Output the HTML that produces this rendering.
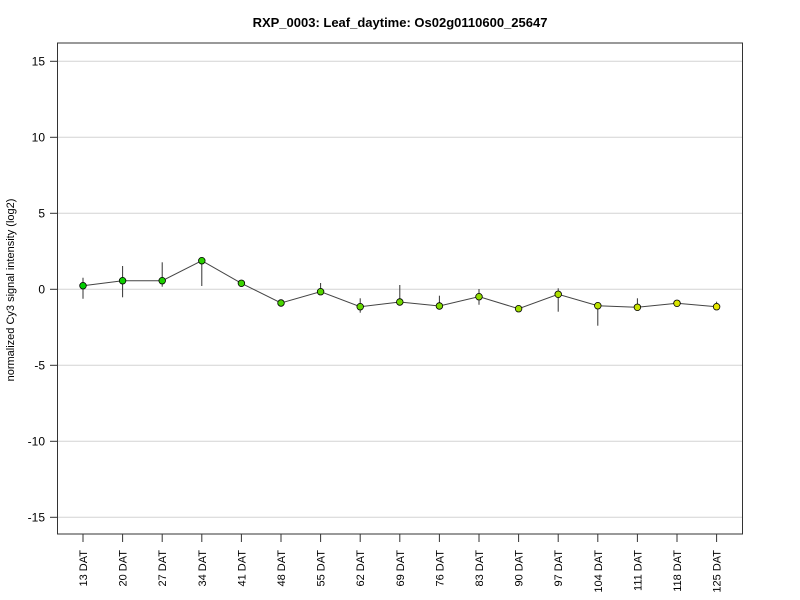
<!DOCTYPE html>
<html><head><meta charset="utf-8"><style>
html,body{margin:0;padding:0;background:#fff;}
svg{display:block;}
text{font-family:"Liberation Sans",Arial,sans-serif;fill:#000;}
</style></head><body>
<svg width="800" height="600" viewBox="0 0 800 600" xmlns="http://www.w3.org/2000/svg">
<rect x="0" y="0" width="800" height="600" fill="#fff"/>
<text x="400" y="27" text-anchor="middle" font-size="13" font-weight="bold">RXP_0003: Leaf_daytime: Os02g0110600_25647</text>
<g stroke="#d3d3d3" stroke-width="1">
<line x1="57.5" x2="742.5" y1="61.3" y2="61.3"/>
<line x1="57.5" x2="742.5" y1="137.3" y2="137.3"/>
<line x1="57.5" x2="742.5" y1="213.3" y2="213.3"/>
<line x1="57.5" x2="742.5" y1="289.3" y2="289.3"/>
<line x1="57.5" x2="742.5" y1="365.3" y2="365.3"/>
<line x1="57.5" x2="742.5" y1="441.3" y2="441.3"/>
<line x1="57.5" x2="742.5" y1="517.3" y2="517.3"/>
</g>
<rect x="57.5" y="43" width="685" height="491" fill="none" stroke="#333" stroke-width="1"/>
<g stroke="#333" stroke-width="1">
<line x1="50" x2="57.5" y1="61.3" y2="61.3"/>
<line x1="50" x2="57.5" y1="137.3" y2="137.3"/>
<line x1="50" x2="57.5" y1="213.3" y2="213.3"/>
<line x1="50" x2="57.5" y1="289.3" y2="289.3"/>
<line x1="50" x2="57.5" y1="365.3" y2="365.3"/>
<line x1="50" x2="57.5" y1="441.3" y2="441.3"/>
<line x1="50" x2="57.5" y1="517.3" y2="517.3"/>
</g>
<g font-size="12" text-anchor="end">
<text x="45" y="65.5">15</text>
<text x="45" y="141.5">10</text>
<text x="45" y="217.5">5</text>
<text x="45" y="293.5">0</text>
<text x="45" y="369.5">-5</text>
<text x="45" y="445.5">-10</text>
<text x="45" y="521.5">-15</text>
</g>
<text transform="translate(14,290) rotate(-90)" text-anchor="middle" font-size="11">normalized Cy3 signal intensity (log2)</text>
<g stroke="#333" stroke-width="1" id="xt"></g>
<g font-size="11" text-anchor="end" id="xl"></g>
<g id="eb" stroke="#333" stroke-width="1"></g>
<polyline id="ln" fill="none" stroke="#444" stroke-width="1"/>
<g id="pts" stroke="#000" stroke-width="0.8"></g>
<script>
var labels=["13 DAT","20 DAT","27 DAT","34 DAT","41 DAT","48 DAT","55 DAT","62 DAT","69 DAT","76 DAT","83 DAT","90 DAT","97 DAT","104 DAT","111 DAT","118 DAT","125 DAT"];
var ys=[285.7,280.7,280.7,260.7,283.3,303,291.7,306.7,302,306,296.7,308.7,294.3,305.7,307.3,303.3,306.7];
var eb=[[277.7,298.7],[266,297.3],[262.3,286.7],[260.7,286],[281.3,286.7],[301,305],[283,295],[298.3,312.7],[285,302],[295.7,308.7],[289,304.7],[306.5,310],[288.3,311.7],[305.7,325.7],[298.3,309],[301,305],[301.7,306.7]];
var ns="http://www.w3.org/2000/svg";
var xt=document.getElementById("xt"),xl=document.getElementById("xl"),g=document.getElementById("eb"),p=document.getElementById("pts");
var pts=[];
for(var i=0;i<17;i++){
 var x=83+i*39.6;
 var l=document.createElementNS(ns,"line");l.setAttribute("x1",x);l.setAttribute("x2",x);l.setAttribute("y1",534);l.setAttribute("y2",542);xt.appendChild(l);
 var t=document.createElementNS(ns,"text");t.setAttribute("transform","translate("+(x+4)+",550) rotate(-90)");t.textContent=labels[i];xl.appendChild(t);
 var e=document.createElementNS(ns,"line");e.setAttribute("x1",x);e.setAttribute("x2",x);e.setAttribute("y1",eb[i][0]);e.setAttribute("y2",eb[i][1]);g.appendChild(e);
 pts.push(x+","+ys[i]);
 var f=i/16;var r=Math.round(0+230*f),gg=Math.round(205+25*f);
 var c=document.createElementNS(ns,"circle");c.setAttribute("cx",x);c.setAttribute("cy",ys[i]);c.setAttribute("r",3.3);c.setAttribute("fill","rgb("+r+","+gg+",0)");p.appendChild(c);
}
document.getElementById("ln").setAttribute("points",pts.join(" "));
</script>
</svg>
</body></html>
